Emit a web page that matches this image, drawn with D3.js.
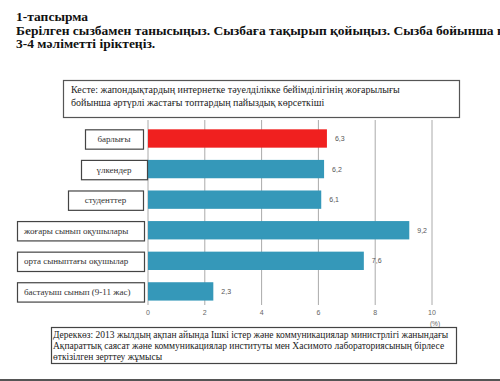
<!DOCTYPE html>
<html>
<head>
<meta charset="utf-8">
<script src="https://cdn.jsdelivr.net/npm/d3@7"></script>
<style>
  body { margin: 0; background: #fff; }
  svg { display: block; }
</style>
</head>
<body>
<svg width="500" height="381"></svg>
<script>
var SERIF = "'Liberation Serif', 'DejaVu Serif', serif";
var SANS = "'Liberation Sans', 'DejaVu Sans', sans-serif";

// header task text
var heading = ["1-тапсырма",
  "Берілген сызбамен танысыңыз. Сызбаға тақырып қойыңыз. Сызба бойынша негізгі",
  "3-4 мәліметті іріктеңіз."];

var titleLines = ["Кесте: жапондықтардың интернетке тәуелділікке бейімділігінің жоғарылығы",
  "бойынша әртүрлі жастағы топтардың пайыздық көрсеткіші"];

var sourceLines = ["Дереккөз: 2013 жылдың ақпан айында Ішкі істер және коммуникациялар министрлігі жанындағы",
  "Ақпараттық саясат және коммуникациялар институты мен Хасимото лабораториясының бірлесе",
  "өткізілген зерттеу жұмысы"];

var categories = ["барлығы", "үлкендер", "студенттер", "жоғары сынып оқушылары",
  "орта сыныптағы оқушылар", "бастауыш сынып (9-11 жас)"];
var values = [6.3, 6.2, 6.1, 9.2, 7.6, 2.3];
var valueLabels = ["6,3", "6,2", "6,1", "9,2", "7,6", "2,3"];
var ticks = [0, 2, 4, 6, 8, 10];

// left / right edge of each label box (layout)
var boxLeft = [85, 81, 68, 17, 17, 17];
var boxRight = [143, 147, 143, 144, 144, 144];

var svg = d3.select("svg");

var x = d3.scaleLinear().domain([0, 10]).range([148, 432]);
var y = d3.scaleBand().domain(categories)
  .range([123.2, 306.7]).paddingInner(0.4).paddingOuter(0.2);

// heading
svg.append("g").selectAll("text")
  .data(heading)
  .enter().append("text")
  .attr("x", 16)
  .attr("y", function(d, i) { return 21 + i * 13.5; })
  .style("font-family", SERIF)
  .style("font-size", "13.5px")
  .style("font-weight", "bold")
  .style("fill", "#111")
  .text(function(d) { return d; });

// title box
svg.append("rect")
  .attr("x", 63.5).attr("y", 80.5)
  .attr("width", 396).attr("height", 37)
  .style("fill", "#fff").style("stroke", "#555").style("stroke-width", 1.2);

svg.append("g").selectAll("text")
  .data(titleLines)
  .enter().append("text")
  .attr("x", 71)
  .attr("y", function(d, i) { return 93 + i * 12.5; })
  .style("font-family", SERIF)
  .style("font-size", "10px")
  .style("fill", "#222")
  .text(function(d) { return d; });

// grid
svg.append("g").selectAll("line")
  .data(ticks)
  .enter().append("line")
  .attr("x1", function(d) { return x(d); })
  .attr("x2", function(d) { return x(d); })
  .attr("y1", 120).attr("y2", 305)
  .style("stroke", "#aaa").style("stroke-width", 1);

svg.append("g").selectAll("text")
  .data(ticks)
  .enter().append("text")
  .attr("x", function(d) { return x(d); })
  .attr("y", 315)
  .attr("text-anchor", "middle")
  .style("font-family", SANS)
  .style("font-size", "7px")
  .style("fill", "#666")
  .text(function(d) { return d; });

svg.append("text")
  .attr("x", x(10) + 3).attr("y", 326)
  .attr("text-anchor", "middle")
  .style("font-family", SANS)
  .style("font-size", "6.5px")
  .style("fill", "#666")
  .text("(%)");

// bars
svg.append("g").selectAll("rect")
  .data(values)
  .enter().append("rect")
  .attr("x", x(0))
  .attr("y", function(d, i) { return y(categories[i]); })
  .attr("width", function(d) { return x(d) - x(0); })
  .attr("height", y.bandwidth())
  .style("fill", function(d, i) { return i == 0 ? "#f0201f" : "#3598b9"; });

svg.append("g").selectAll("text")
  .data(values)
  .enter().append("text")
  .attr("x", function(d) { return x(d) + 8; })
  .attr("y", function(d, i) { return y(categories[i]) + y.bandwidth() / 2 + 2.5; })
  .style("font-family", SANS)
  .style("font-size", "7px")
  .style("fill", "#555")
  .text(function(d, i) { return valueLabels[i]; });

// category label boxes
var lab = svg.append("g").selectAll("g")
  .data(categories)
  .enter().append("g");

lab.append("rect")
  .attr("x", function(d, i) { return boxLeft[i] + 0.5; })
  .attr("y", function(d) { return y(d) + 0.5; })
  .attr("width", function(d, i) { return boxRight[i] - boxLeft[i]; })
  .attr("height", y.bandwidth() + 1)
  .style("fill", "#fff").style("stroke", "#444").style("stroke-width", 1.2);

lab.append("text")
  .attr("x", function(d, i) { return i < 3 ? (boxLeft[i] + boxRight[i]) / 2 : boxLeft[i] + 7; })
  .attr("y", function(d) { return y(d) + y.bandwidth() / 2 + 3.5; })
  .attr("text-anchor", function(d, i) { return i < 3 ? "middle" : "start"; })
  .style("font-family", SERIF)
  .style("font-size", "9px")
  .style("fill", "#333")
  .text(function(d) { return d; });

// source box
svg.append("rect")
  .attr("x", 51.5).attr("y", 327.5)
  .attr("width", 405).attr("height", 36)
  .style("fill", "#fff").style("stroke", "#444").style("stroke-width", 1.2);

svg.append("g").selectAll("text")
  .data(sourceLines)
  .enter().append("text")
  .attr("x", 53)
  .attr("y", function(d, i) { return 337.5 + i * 11; })
  .style("font-family", SERIF)
  .style("font-size", "9.5px")
  .style("fill", "#222")
  .text(function(d) { return d; });

// bottom rule
svg.append("line")
  .attr("x1", 0).attr("x2", 500)
  .attr("y1", 380).attr("y2", 380)
  .style("stroke", "#555").style("stroke-width", 2);
</script>
</body>
</html>
